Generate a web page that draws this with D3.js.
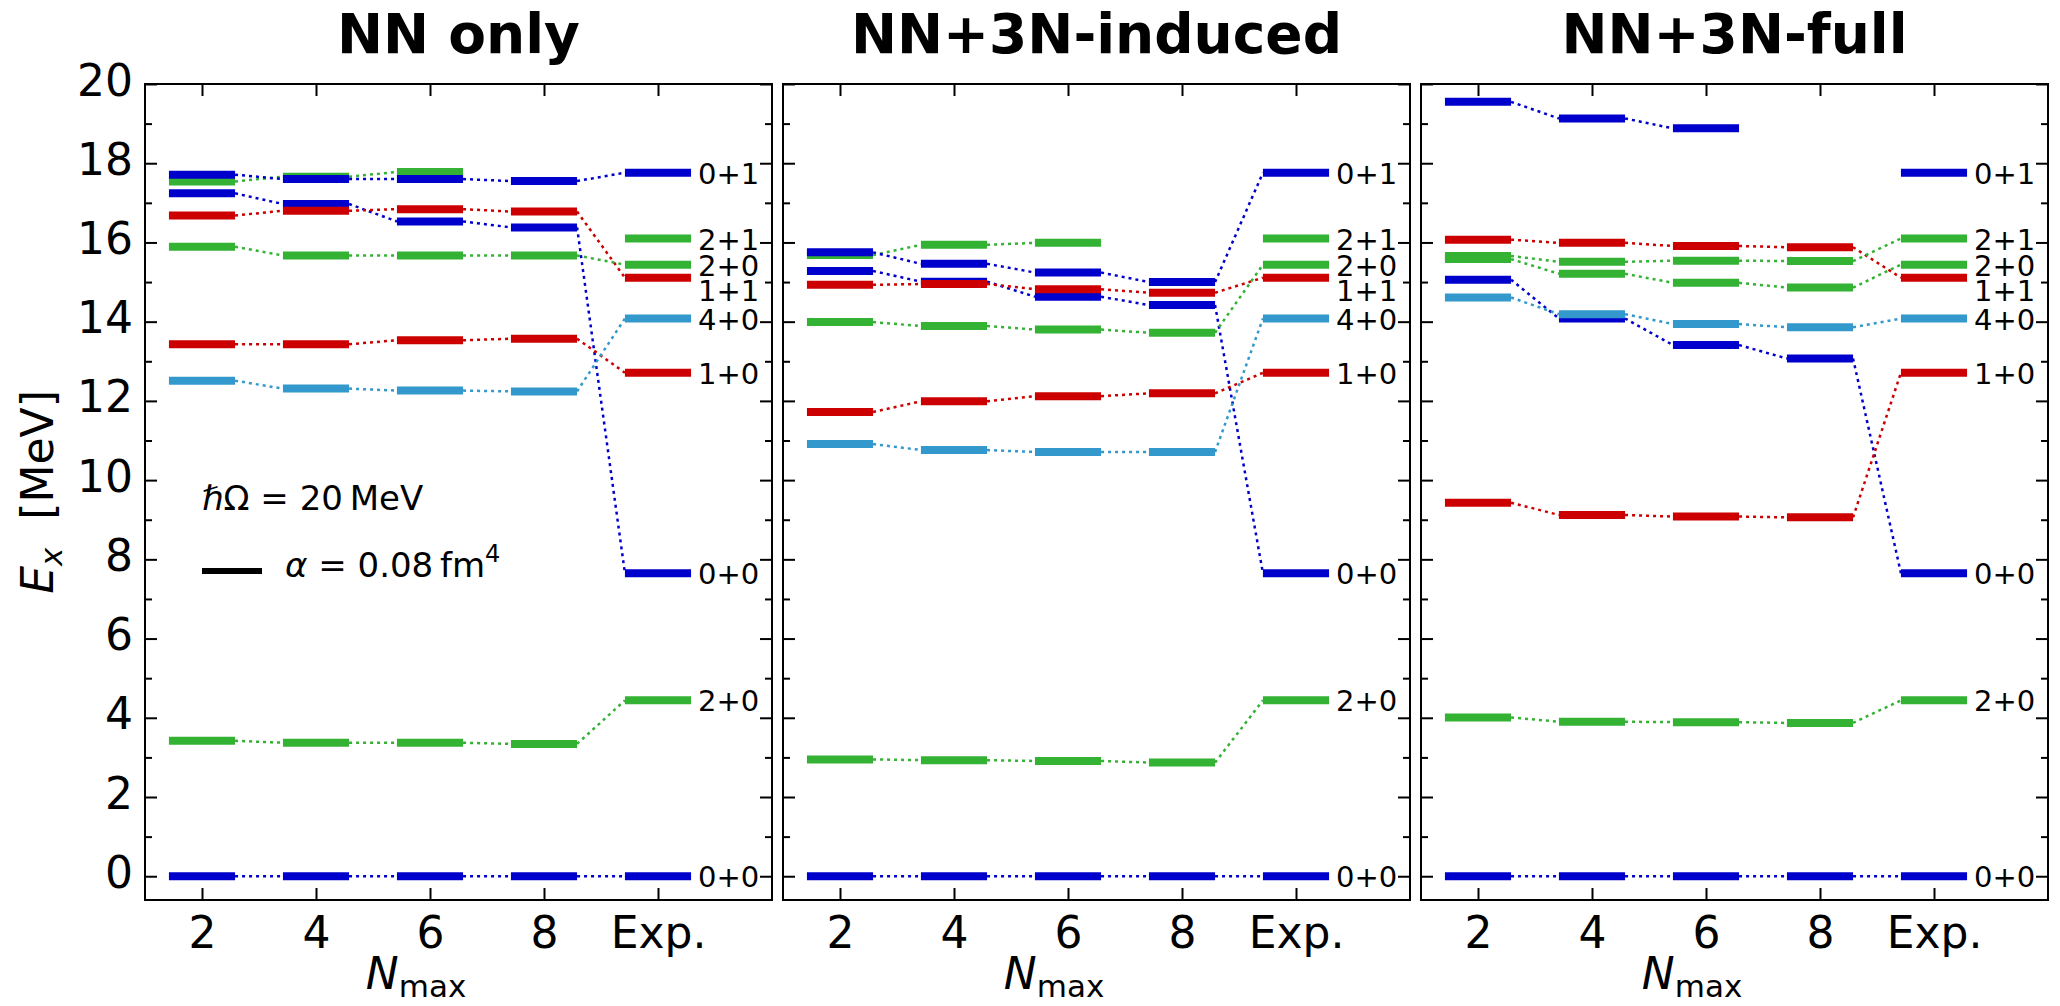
<!DOCTYPE html>
<html>
<head>
<meta charset="utf-8">
<title>Excitation spectra</title>
<script src="https://cdn.jsdelivr.net/npm/d3@7"></script>
<style>
  body { margin: 0; background: #fff; }
  svg text { font-family: "DejaVu Sans", sans-serif; fill: #000; }
  .axis path { display: none; }
  .axis line { stroke: #000; stroke-width: 2px; }
  .axis text { font-size: 44px; font-family: "DejaVu Sans", sans-serif; }
</style>
</head>
<body>
<svg id="chart" width="2060" height="1006"></svg>
<script>
// x categories and panel titles
var nmaxLabels = ["2", "4", "6", "8", "Exp."];
var panelTitles = ["NN only", "NN+3N-induced", "NN+3N-full"];

// states, in drawing order (later ones on top)
var stateColors = ["#0000cc", "#33b233", "#0000cc", "#cc0000", "#3399cc", "#cc0000", "#33b233", "#33b233", "#0000cc"];
var expLabels   = ["0+0", "2+0", "0+0", "1+0", "4+0", "1+1", "2+0", "2+1", "0+1"];
var expEnergies = [0, 4.44, 7.65, 12.71, 14.08, 15.11, 15.44, 16.10, 17.76];

// Nmax = 2, 4, 6, 8 for each state (rows follow the order above)
var nnOnly = [
  [0, 0, 0, 0],
  [3.42, 3.37, 3.37, 3.34],
  [17.24, 16.97, 16.53, 16.38],
  [13.43, 13.43, 13.53, 13.57],
  [12.51, 12.31, 12.26, 12.24],
  [16.68, 16.80, 16.84, 16.78],
  [15.89, 15.67, 15.67, 15.67],
  [17.54, 17.66, 17.78, null],
  [17.71, 17.60, 17.60, 17.55]
];
var nn3nInduced = [
  [0, 0, 0, 0],
  [2.95, 2.93, 2.91, 2.87],
  [15.28, 15.01, 14.63, 14.42],
  [11.72, 11.99, 12.12, 12.19],
  [10.91, 10.76, 10.71, 10.71],
  [14.93, 14.95, 14.82, 14.73],
  [13.99, 13.89, 13.80, 13.72],
  [15.68, 15.94, 15.99, null],
  [15.75, 15.46, 15.24, 15.00]
];
var nn3nFull = [
  [0, 0, 0, 0],
  [4.01, 3.90, 3.89, 3.87],
  [15.06, 14.08, 13.41, 13.07],
  [9.43, 9.12, 9.08, 9.06],
  [14.61, 14.19, 13.94, 13.86],
  [16.07, 15.99, 15.91, 15.88],
  [15.58, 15.21, 14.98, 14.86],
  [15.66, 15.51, 15.54, 15.53],
  [19.55, 19.13, 18.88, null]
];
var panelData = [nnOnly, nn3nInduced, nn3nFull];

var yMajor = d3.range(0, 21, 2);
var yMinor = d3.range(1, 20, 2);

var svg = d3.select("#chart");
var panelLeft = [145, 783, 1421],
    panelTop = 84,
    pw = 627,
    ph = 816,
    half = 0.29;

var x = d3.scaleLinear().domain([0.5, 6]).range([0, pw]);
var y = d3.scaleLinear().domain([-0.6, 20]).range([ph, 0]);

panelData.forEach(function(rows, p) {
  var g = svg.append("g").attr("transform", "translate(" + panelLeft[p] + "," + panelTop + ")");

  // connecting dotted lines
  rows.forEach(function(vals, s) {
    var pts = vals.map(function(v, i) { return v == null ? null : [i + 1, v]; });
    if (vals[3] != null) pts.push([5, expEnergies[s]]);
    for (var i = 0; i < pts.length - 1; i++) {
      if (!pts[i] || !pts[i + 1]) continue;
      g.append("line")
        .attr("x1", x(pts[i][0] + half)).attr("y1", y(pts[i][1]))
        .attr("x2", x(pts[i + 1][0] - half)).attr("y2", y(pts[i + 1][1]))
        .attr("stroke", stateColors[s])
        .attr("stroke-width", 2.5)
        .attr("stroke-dasharray", "3,4");
    }
  });

  // level bars
  rows.forEach(function(vals, s) {
    vals.forEach(function(v, i) {
      if (v == null) return;
      g.append("line")
        .attr("x1", x(i + 1 - half)).attr("x2", x(i + 1 + half))
        .attr("y1", y(v)).attr("y2", y(v))
        .attr("stroke", stateColors[s]).attr("stroke-width", 8);
    });
  });
  expEnergies.forEach(function(e, s) {
    g.append("line")
      .attr("x1", x(5 - half)).attr("x2", x(5 + half))
      .attr("y1", y(e)).attr("y2", y(e))
      .attr("stroke", stateColors[s]).attr("stroke-width", 8);
    g.append("text")
      .attr("x", x(5 + half) + 7)
      .attr("y", y(e) + (expLabels[s] == "1+1" ? 12 : 0))
      .attr("dy", "0.38em")
      .style("font-size", "29px")
      .text(expLabels[s]);
  });

  // axes with inward ticks
  g.append("g").attr("class", "axis")
    .call(d3.axisLeft(y).tickValues(yMajor).tickSize(-12).tickSizeOuter(0).tickPadding(12)
      .tickFormat(p == 0 ? d3.format("d") : ""))
    .selectAll("text").attr("dy", "0.25em");
  g.append("g").attr("class", "axis")
    .call(d3.axisLeft(y).tickValues(yMinor).tickSize(-7).tickSizeOuter(0).tickFormat(""));
  g.append("g").attr("class", "axis").attr("transform", "translate(" + pw + ",0)")
    .call(d3.axisRight(y).tickValues(yMajor).tickSize(-12).tickSizeOuter(0).tickFormat(""));
  g.append("g").attr("class", "axis").attr("transform", "translate(" + pw + ",0)")
    .call(d3.axisRight(y).tickValues(yMinor).tickSize(-7).tickSizeOuter(0).tickFormat(""));
  g.append("g").attr("class", "axis").attr("transform", "translate(0," + ph + ")")
    .call(d3.axisBottom(x).tickValues([1, 2, 3, 4, 5]).tickSize(-12).tickSizeOuter(0).tickPadding(17)
      .tickFormat(function(d) { return nmaxLabels[d - 1]; }));
  g.append("g").attr("class", "axis")
    .call(d3.axisTop(x).tickValues([1, 2, 3, 4, 5]).tickSize(-12).tickSizeOuter(0).tickFormat(""));

  g.append("rect")
    .attr("width", pw).attr("height", ph)
    .attr("fill", "none").attr("stroke", "#000").attr("stroke-width", 2);

  // title
  svg.append("text")
    .attr("x", panelLeft[p] + pw / 2).attr("y", 53)
    .attr("text-anchor", "middle")
    .style("font-size", "55px").style("font-weight", "bold")
    .text(panelTitles[p]);

  // x label
  var xl = svg.append("text")
    .attr("x", panelLeft[p] + 271).attr("y", 989)
    .attr("text-anchor", "middle")
    .style("font-size", "44px");
  xl.append("tspan").style("font-style", "italic").text("N");
  xl.append("tspan").style("font-size", "31px").attr("dy", 8).text("max");
});

// y label
var yl = svg.append("text")
  .attr("transform", "translate(53,492) rotate(-90)")
  .attr("text-anchor", "middle")
  .style("font-size", "44px");
yl.append("tspan").style("font-style", "italic").text("E");
yl.append("tspan").style("font-size", "31px").style("font-style", "italic").attr("dy", 9).text("x");
yl.append("tspan").attr("dy", -9).text("\u00a0\u00a0[MeV]");

// annotation in first panel
var ann = svg.append("g").style("font-size", "34px");
var t1 = ann.append("text").attr("x", 202).attr("y", 510);
t1.append("tspan").style("font-style", "italic").text("\u210f");
t1.append("tspan").text("\u03a9 = 20\u2009MeV");
ann.append("line")
  .attr("x1", 202).attr("x2", 262).attr("y1", 571).attr("y2", 571)
  .attr("stroke", "#000").attr("stroke-width", 6);
var t2 = ann.append("text").attr("x", 285).attr("y", 577);
t2.append("tspan").style("font-style", "italic").text("\u03b1");
t2.append("tspan").text(" = 0.08\u2009fm");
t2.append("tspan").style("font-size", "24px").attr("dy", -15).text("4");
</script>
</body>
</html>
